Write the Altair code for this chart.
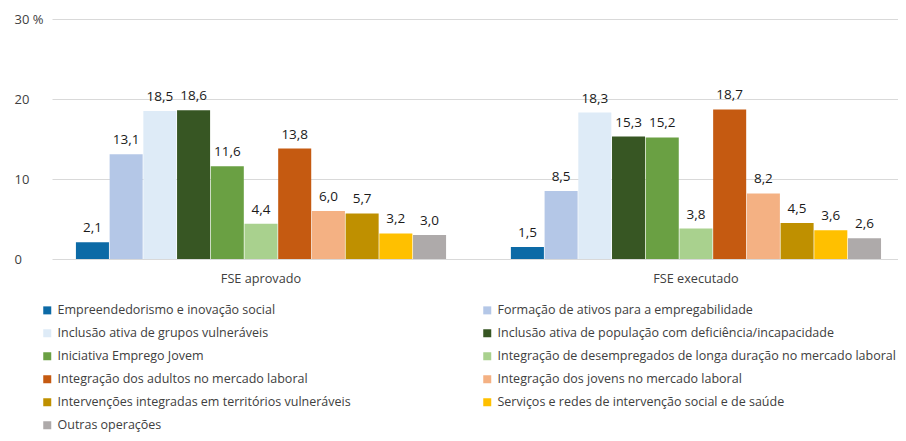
import altair as alt
import pandas as pd

groups = ["FSE aprovado", "FSE executado"]
categories = [
    "Empreendedorismo e inovação social",
    "Formação de ativos para a empregabilidade",
    "Inclusão ativa de grupos vulneráveis",
    "Inclusão ativa de população com deficiência/incapacidade",
    "Iniciativa Emprego Jovem",
    "Integração de desempregados de longa duração no mercado laboral",
    "Integração dos adultos no mercado laboral",
    "Integração dos jovens no mercado laboral",
    "Intervenções integradas em territórios vulneráveis",
    "Serviços e redes de intervenção social e de saúde",
    "Outras operações",
]
aprovado = [2.1, 13.1, 18.5, 18.6, 11.6, 4.4, 13.8, 6.0, 5.7, 3.2, 3.0]
executado = [1.5, 8.5, 18.3, 15.3, 15.2, 3.8, 18.7, 8.2, 4.5, 3.6, 2.6]
colors = ["#0c6aa6", "#b4c7e7", "#deebf7", "#375623", "#6aa043", "#a9d18e",
          "#c55a11", "#f4b183", "#bf9000", "#ffc000", "#aeaaaa"]

rows = []
for g, vals in zip(groups, [aprovado, executado]):
    for c, v in zip(categories, vals):
        rows.append({"grupo": g, "cat": c, "valor": v,
                     "lbl": f"{v:.1f}".replace(".", ",")})
df = pd.DataFrame(rows)

FONT = "Open Sans"

base = alt.Chart(df).encode(
    x=alt.X("grupo:N", sort=groups, title=None,
            scale=alt.Scale(paddingInner=0.149, paddingOuter=0.047, align=0.585),
            axis=alt.Axis(labelAngle=0, domain=False, ticks=False,
                          labelPadding=13, labelFontSize=12.7,
                          labelColor="#404040", labelFont=FONT)),
    xOffset=alt.XOffset("cat:N", sort=categories,
                        scale=alt.Scale(paddingInner=0.02, paddingOuter=0)),
)

bars = base.mark_bar().encode(
    y=alt.Y("valor:Q", title=None,
            scale=alt.Scale(domain=[0, 30]),
            axis=alt.Axis(values=[0, 10, 20, 30], domain=False, ticks=False,
                          labelAlign="left", labelPadding=38,
                          labelExpr="datum.value == 30 ? '30 %' : datum.label",
                          labelFontSize=13, labelColor="#404040",
                          labelFont=FONT, gridColor="#d9d9d9")),
    color=alt.Color("cat:N", sort=categories,
                    scale=alt.Scale(domain=categories, range=colors),
                    legend=alt.Legend(title=None, orient="none",
                                      legendX=-11, legendY=285,
                                      direction="horizontal", columns=2,
                                      columnPadding=130, rowPadding=10,
                                      symbolType="square", symbolSize=64,
                                      labelFontSize=12.5, labelColor="#404040",
                                      labelFont=FONT, labelLimit=500,
                                      padding=0)),
)

texts = base.mark_text(baseline="bottom", dy=-7, fontSize=13.5,
                       color="#1a1a1a", font=FONT).encode(
    y=alt.Y("valor:Q"),
    text="lbl:N",
)

chart = (bars + texts).properties(
    width=846, height=240,
    autosize=alt.AutoSizeParams(type="none"),
    padding={"left": 44, "top": 11, "right": 0, "bottom": 174},
).configure_view(stroke=None)

chart.save("out.html", embed_options={"renderer": "svg", "actions": False})
